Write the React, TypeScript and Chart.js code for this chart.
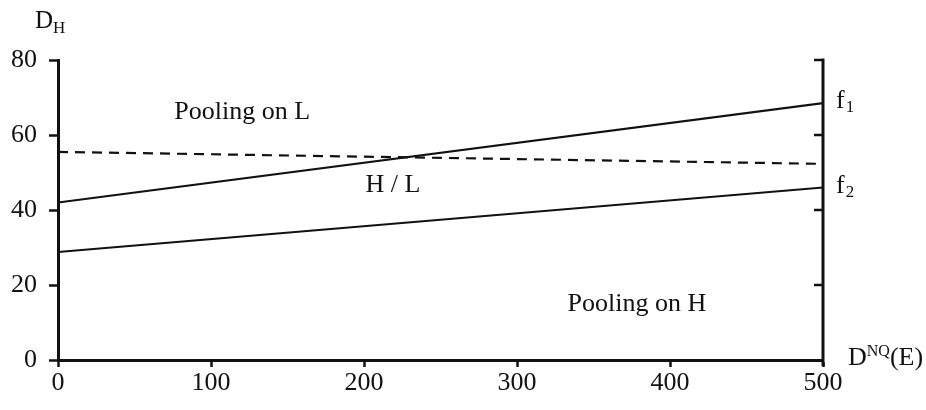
import React, { useEffect, useRef } from "react";
import { Chart, registerables } from "chart.js";

Chart.register(...registerables);

// ---- data ----
const xValues = [0, 500];
const f1Values = [42, 68.5];
const f2Values = [28.8, 46];
const dashedValues = [55.5, 52.3];

const xTicks = [0, 100, 200, 300, 400, 500];
const yTicks = [0, 20, 40, 60, 80];
const rightAxisTicks = [20, 40, 60, 80];

const regionTexts = ["Pooling on L", "H / L", "Pooling on H"];
const regionX = [76, 201, 333];
const regionY = [66, 46.7, 14.9];

const INK = "#111111";
const SERIF = "'Liberation Serif', 'Times New Roman', serif";

const decorPlugin = {
  id: "decor",
  afterDraw(chart: any) {
    const ctx = chart.ctx;
    const xs = chart.scales.x;
    const ys = chart.scales.y;
    const area = chart.chartArea;
    ctx.save();
    ctx.strokeStyle = INK;
    ctx.fillStyle = INK;
    ctx.lineCap = "butt";

    // right axis line with inward ticks
    const rx = xs.getPixelForValue(500);
    ctx.lineWidth = 3;
    ctx.beginPath();
    ctx.moveTo(rx, ys.getPixelForValue(80) - 1.5);
    ctx.lineTo(rx, ys.getPixelForValue(0) + 6);
    ctx.stroke();
    ctx.lineWidth = 2.5;
    rightAxisTicks.forEach((v) => {
      const py = ys.getPixelForValue(v);
      ctx.beginPath();
      ctx.moveTo(rx - 9, py);
      ctx.lineTo(rx - 1, py);
      ctx.stroke();
    });

    // region texts
    ctx.textBaseline = "middle";
    ctx.textAlign = "left";
    ctx.font = `26px ${SERIF}`;
    regionTexts.forEach((t, i) => {
      ctx.fillText(t, xs.getPixelForValue(regionX[i]), ys.getPixelForValue(regionY[i]));
    });

    // f1 / f2 labels at line ends
    ctx.textBaseline = "alphabetic";
    const endLabel = (main: string, sub: string, v: number) => {
      const py = ys.getPixelForValue(v) + 5;
      const px = rx + 13;
      ctx.font = `26px ${SERIF}`;
      ctx.fillText(main, px, py);
      const w = ctx.measureText(main).width;
      ctx.font = `17px ${SERIF}`;
      ctx.fillText(sub, px + w + 1, py + 4);
    };
    endLabel("f", "1", f1Values[f1Values.length - 1]);
    endLabel("f", "2", f2Values[f2Values.length - 1]);

    // y-axis title D_H
    {
      const px = area.left - 23;
      const py = area.top - 32;
      ctx.font = `25px ${SERIF}`;
      ctx.fillText("D", px, py);
      const w = ctx.measureText("D").width;
      ctx.font = `17px ${SERIF}`;
      ctx.fillText("H", px + w, py + 5);
    }

    // x-axis title D^NQ(E)
    {
      const px = area.right + 25;
      const py = area.bottom + 5;
      ctx.font = `26px ${SERIF}`;
      ctx.fillText("D", px, py);
      let w = ctx.measureText("D").width;
      ctx.font = `16px ${SERIF}`;
      ctx.fillText("NQ", px + w, py - 9);
      w += ctx.measureText("NQ").width;
      ctx.font = `26px ${SERIF}`;
      ctx.fillText("(E)", px + w, py);
    }
    ctx.restore();
  },
};

export default function App() {
  const canvasRef = useRef<HTMLCanvasElement | null>(null);

  useEffect(() => {
    const canvas = canvasRef.current;
    if (!canvas) return;
    const toPts = (vals: number[]) => vals.map((y, i) => ({ x: xValues[i], y }));
    const chart = new Chart(canvas, {
      type: "line",
      data: {
        datasets: [
          {
            data: toPts(f1Values),
            borderColor: INK,
            borderWidth: 2.2,
            pointRadius: 0,
            tension: 0,
          },
          {
            data: toPts(f2Values),
            borderColor: INK,
            borderWidth: 2.2,
            pointRadius: 0,
            tension: 0,
          },
          {
            data: toPts(dashedValues),
            borderColor: INK,
            borderWidth: 2.2,
            borderDash: [10, 7],
            pointRadius: 0,
            tension: 0,
          },
        ],
      },
      options: {
        animation: false,
        responsive: true,
        maintainAspectRatio: false,
        layout: { padding: { top: 60, right: 103, left: 0, bottom: 0 } },
        plugins: { legend: { display: false }, tooltip: { enabled: false } },
        scales: {
          x: {
            type: "linear",
            min: 0,
            max: 500,
            afterBuildTicks: (s: any) => {
              s.ticks = xTicks.map((v) => ({ value: v }));
            },
            afterFit: (s: any) => {
              s.height = 50;
            },
            ticks: {
              font: { family: SERIF, size: 26 },
              color: INK,
              padding: 1,
              maxRotation: 0,
            },
            grid: {
              drawOnChartArea: false,
              drawTicks: true,
              tickLength: 7,
              tickWidth: 2.5,
              color: INK,
            },
            border: { display: true, width: 3, color: INK },
          },
          y: {
            min: 0,
            max: 80,
            afterBuildTicks: (s: any) => {
              s.ticks = yTicks.map((v) => ({ value: v }));
            },
            afterFit: (s: any) => {
              s.width = 58;
            },
            ticks: {
              font: { family: SERIF, size: 26 },
              color: INK,
              padding: 12,
            },
            grid: {
              drawOnChartArea: false,
              drawTicks: true,
              tickLength: 9,
              tickWidth: 2.5,
              color: INK,
            },
            border: { display: true, width: 3, color: INK },
          },
        },
      },
      plugins: [decorPlugin],
    });
    return () => chart.destroy();
  }, []);

  return (
    <div
      style={{
        position: "fixed",
        left: 0,
        top: 0,
        width: 926,
        height: 410,
        background: "#ffffff",
      }}
    >
      <canvas ref={canvasRef} />
    </div>
  );
}
